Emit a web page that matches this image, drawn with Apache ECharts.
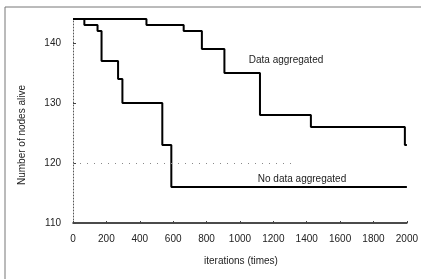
<!DOCTYPE html>
<html>
<head>
<meta charset="utf-8">
<script src="https://cdn.jsdelivr.net/npm/echarts@6/dist/echarts.min.js"></script>
<style>
    html, body { margin: 0; padding: 0; background: #fff; }
    #chart { width: 421px; height: 279px; }
</style>
</head>
<body>
<div id="chart"></div>
<script>
// Step data: x where the count changes, and the new count
const aggIterations = [0, 440, 663, 772, 907, 1120, 1425, 1988, 2000];
const aggAlive = [144, 143, 142, 139, 135, 128, 126, 123, 123];

const noAggIterations = [0, 68, 147, 171, 270, 296, 535, 589, 2000];
const noAggAlive = [144, 143, 142, 137, 134, 130, 123, 116, 116];

const xTicks = [0, 200, 400, 600, 800, 1000, 1200, 1400, 1600, 1800, 2000];
const yTicks = [110, 120, 130, 140];

const textColor = '#222';
const font = 'Liberation Sans';

function pairs(xs, ys) {
    return xs.map((x, i) => [x, ys[i]]);
}

const chart = echarts.init(document.getElementById('chart'));

chart.setOption({
    backgroundColor: '#fff',
    animation: false,
    grid: { left: 73, right: 13, top: 19, bottom: 56 },
    xAxis: {
        type: 'value',
        min: xTicks[0],
        max: xTicks[xTicks.length - 1],
        interval: 200,
        axisLine: { lineStyle: { color: '#111', width: 1.5 } },
        axisTick: { inside: true, length: 2, lineStyle: { color: '#444' } },
        axisLabel: {
            color: textColor, fontFamily: font, fontSize: 10, margin: 11,
            formatter: v => String(v)
        },
        splitLine: { show: false }
    },
    yAxis: {
        type: 'value',
        min: yTicks[0],
        max: 144,
        interval: 10,
        axisLine: { show: true, lineStyle: { color: '#555', type: [1, 2], width: 1 } },
        axisTick: { show: true, inside: true, length: 3, lineStyle: { color: '#444' } },
        axisLabel: { color: textColor, fontFamily: font, fontSize: 10, margin: 12, showMaxLabel: false },
        splitLine: { show: false }
    },
    graphic: [
        { type: 'line', shape: { x1: 5, y1: 7, x2: 421, y2: 7 }, style: { stroke: '#777', lineWidth: 1 } },
        { type: 'line', shape: { x1: 5, y1: 7, x2: 5, y2: 279 }, style: { stroke: '#777', lineWidth: 1 } },
        {
            type: 'text', x: 22, y: 135, rotation: Math.PI / 2,
            style: { text: 'Number of nodes alive', fill: textColor, font: '10px ' + font, align: 'center', verticalAlign: 'middle' }
        },
        {
            type: 'text', x: 241, y: 261,
            style: { text: 'iterations (times)', fill: textColor, font: '10px ' + font, align: 'center', verticalAlign: 'middle' }
        },
        {
            type: 'text', x: 286, y: 60,
            style: { text: 'Data aggregated', fill: textColor, font: '10px ' + font, align: 'center', verticalAlign: 'middle' }
        },
        {
            type: 'text', x: 302, y: 179,
            style: { text: 'No data aggregated', fill: textColor, font: '10px ' + font, align: 'center', verticalAlign: 'middle' }
        }
    ],
    series: [
        {
            name: 'Data aggregated',
            type: 'line',
            step: 'end',
            symbol: 'none',
            data: pairs(aggIterations, aggAlive),
            lineStyle: { color: '#000', width: 2 }
        },
        {
            name: 'No data aggregated',
            type: 'line',
            step: 'end',
            symbol: 'none',
            data: pairs(noAggIterations, noAggAlive),
            lineStyle: { color: '#000', width: 2 },
            markLine: {
                silent: true,
                symbol: 'none',
                label: { show: false },
                lineStyle: { color: '#888', type: [1, 6], width: 1 },
                data: [[{ coord: [0, 120] }, { coord: [1310, 120] }]]
            }
        }
    ]
});
</script>
</body>
</html>
